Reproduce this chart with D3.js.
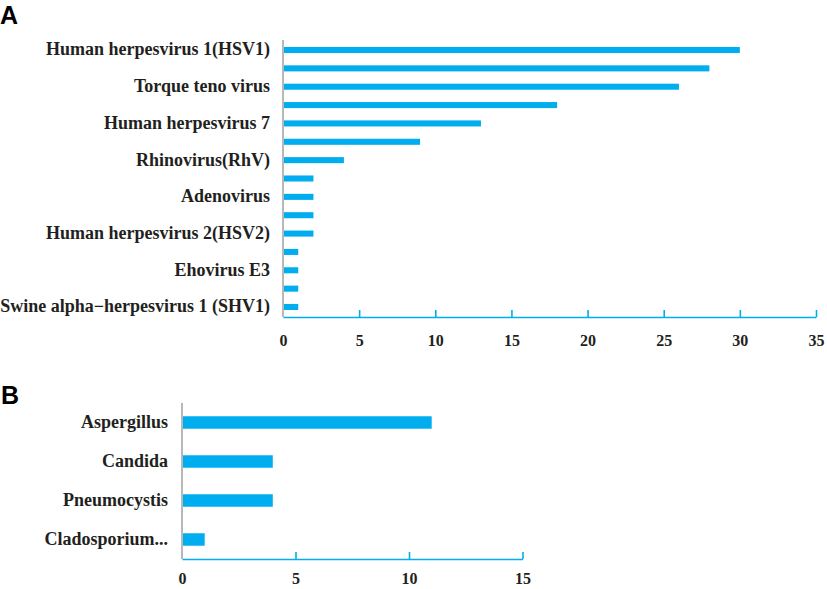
<!DOCTYPE html>
<html>
<head>
<meta charset="utf-8">
<script src="https://cdn.jsdelivr.net/npm/d3@7"></script>
<style>
  body { margin: 0; background: #fff; }
  .lab { font-family: "Liberation Serif", "Times New Roman", serif; font-weight: bold; fill: #231f20; }
</style>
</head>
<body>
<div id="chart-area"></div>
<script>
// panel A: viruses (every other category label is hidden in the original)
var virusLabels = ["Human herpesvirus 1(HSV1)", "", "Torque teno virus", "", "Human herpesvirus 7", "",
	"Rhinovirus(RhV)", "", "Adenovirus", "", "Human herpesvirus 2(HSV2)", "", "Ehovirus E3", "",
	"Swine alpha\u2212herpesvirus 1 (SHV1)"];
var virusCounts = [30, 28, 26, 18, 13, 9, 4, 2, 2, 2, 2, 1, 1, 1, 1];
var virusTicks = [0, 5, 10, 15, 20, 25, 30, 35];

// panel B: fungi
var fungusLabels = ["Aspergillus", "Candida", "Pneumocystis", "Cladosporium..."];
var fungusCounts = [11, 4, 4, 1];
var fungusTicks = [0, 5, 10, 15];

var barColor = "#00aeef";

var svg = d3.select("#chart-area")
	.append("svg")
		.attr("width", 827)
		.attr("height", 589);

function panel(opt) {
	var idx = d3.range(opt.values.length);

	var x = d3.scaleLinear()
		.domain([0, opt.max])
		.range([opt.x0, opt.x1]);

	var y = d3.scaleBand()
		.domain(idx)
		.range([opt.top, opt.bottom])
		.paddingInner(opt.pi)
		.paddingOuter(opt.po);

	var g = svg.append("g");

	// bars
	g.selectAll("rect")
		.data(idx)
		.enter()
		.append("rect")
			.attr("x", x(0))
			.attr("y", function(i){ return y(i); })
			.attr("width", function(i){ return x(opt.values[i]) - x(0); })
			.attr("height", y.bandwidth())
			.attr("fill", barColor);

	// x axis (blue, ticks pointing up)
	var xAxis = g.append("g")
		.attr("transform", "translate(0," + opt.bottom + ")")
		.call(d3.axisBottom(x).tickValues(opt.ticks).tickSize(-7).tickSizeOuter(0).tickPadding(0));
	xAxis.select(".domain").attr("stroke", barColor).attr("stroke-width", 1.6);
	xAxis.selectAll(".tick line").attr("stroke", barColor).attr("stroke-width", 1.6)
		.filter(function(d){ return d === 0; }).remove();
	xAxis.selectAll(".tick text")
		.attr("class", "lab")
		.style("font-size", "16px")
		.attr("y", opt.tickDy)
		.attr("dy", 0);

	// y axis labels
	var yAxis = g.append("g")
		.attr("transform", "translate(" + x(0) + ",0)")
		.call(d3.axisLeft(y).tickSize(0).tickPadding(opt.pad)
			.tickFormat(function(i){ return opt.labels[i]; }));
	yAxis.select(".domain").remove();
	yAxis.selectAll(".tick text")
		.attr("class", "lab")
		.style("font-size", "18px")
		.attr("dy", "0.3em");

	// grey vertical axis line
	g.append("line")
		.attr("x1", x(0)).attr("x2", x(0))
		.attr("y1", opt.top).attr("y2", opt.bottom)
		.attr("stroke", "#b8b8b8")
		.attr("stroke-width", 2);

	// panel letter
	svg.append("text")
		.attr("x", opt.letterX)
		.attr("y", opt.letterY)
		.attr("font-family", "Liberation Sans, Arial, sans-serif")
		.attr("font-weight", "bold")
		.attr("font-size", "25px")
		.attr("fill", "#000")
		.text(opt.letter);
}

panel({
	values: virusCounts, labels: virusLabels, ticks: virusTicks, max: 35,
	x0: 283, x1: 816, top: 40, bottom: 317, pi: 0.67, po: 0.38,
	pad: 13, tickDy: 29, letter: "A", letterX: 0, letterY: 24
});

panel({
	values: fungusCounts, labels: fungusLabels, ticks: fungusTicks, max: 15,
	x0: 182, x1: 522.5, top: 403, bottom: 559, pi: 0.68, po: 0.34,
	pad: 14, tickDy: 25, letter: "B", letterX: 1, letterY: 404
});
</script>
</body>
</html>
